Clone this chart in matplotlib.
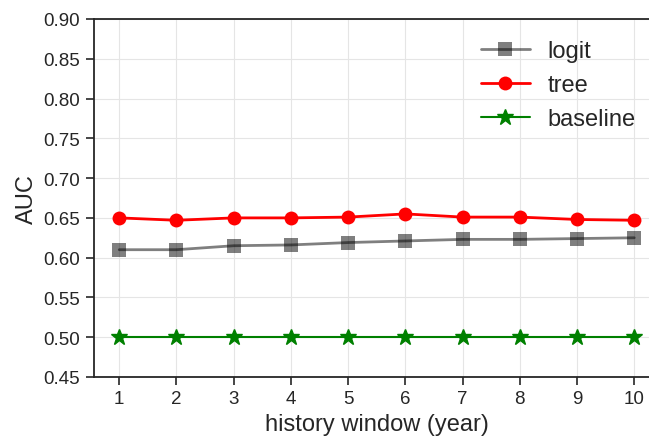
import numpy as np
import matplotlib
matplotlib.use("Agg")
import matplotlib.pyplot as plt
import seaborn as sns

# --- data ---
windows = [1, 2, 3, 4, 5, 6, 7, 8, 9, 10]
logit_auc = [0.610, 0.610, 0.615, 0.616, 0.619, 0.621, 0.623, 0.623, 0.624, 0.625]
tree_auc = [0.650, 0.647, 0.650, 0.650, 0.651, 0.655, 0.651, 0.651, 0.648, 0.647]
baseline_auc = [0.50, 0.50, 0.50, 0.50, 0.50, 0.50, 0.50, 0.50, 0.50, 0.50]
y_ticks = [0.45, 0.50, 0.55, 0.60, 0.65, 0.70, 0.75, 0.80, 0.85, 0.90]

sns.set_style("ticks", {"axes.grid": True, "grid.color": "#e5e5e5"})
plt.rcParams['font.family'] = ['Liberation Sans', 'DejaVu Sans']

fig = plt.figure(figsize=(6.49, 4.39), dpi=100)
# right edge of the axes runs past the figure, as in the reference
ax = fig.add_axes([93.5 / 649, 1 - 378 / 439, (660 - 93.5) / 649, 358 / 439])

ax.plot(windows, logit_auc, color='k', alpha=0.5, marker='s', markersize=10,
        markeredgewidth=0, linewidth=2, label='logit')
ax.plot(windows, tree_auc, color='red', marker='o', markersize=10,
        markeredgewidth=0, linewidth=2, label='tree')
ax.plot(windows, baseline_auc, color='green', marker='*', markersize=12,
        markeredgewidth=1, linewidth=1.5, label='baseline')

ax.set_xlim(0.55, 10.45)
ax.set_ylim(0.45, 0.90)
ax.set_xticks(windows)
ax.set_yticks(y_ticks)
ax.set_yticklabels([f"{t:.2f}" for t in y_ticks])
ax.tick_params(labelsize=13.5, length=6, width=1.2, colors='#262626')
for sp in ax.spines.values():
    sp.set_linewidth(1.3)
    sp.set_color('#262626')

ax.set_xlabel("history window (year)", fontsize=17, color='#262626')
ax.set_ylabel("AUC", fontsize=17, color='#262626')

ax.legend(loc='upper right', bbox_to_anchor=(0.995, 1.0), frameon=False,
          fontsize=17, handlelength=2.1, handletextpad=0.75, labelspacing=0.5)

fig.savefig("out.png", dpi=100)
